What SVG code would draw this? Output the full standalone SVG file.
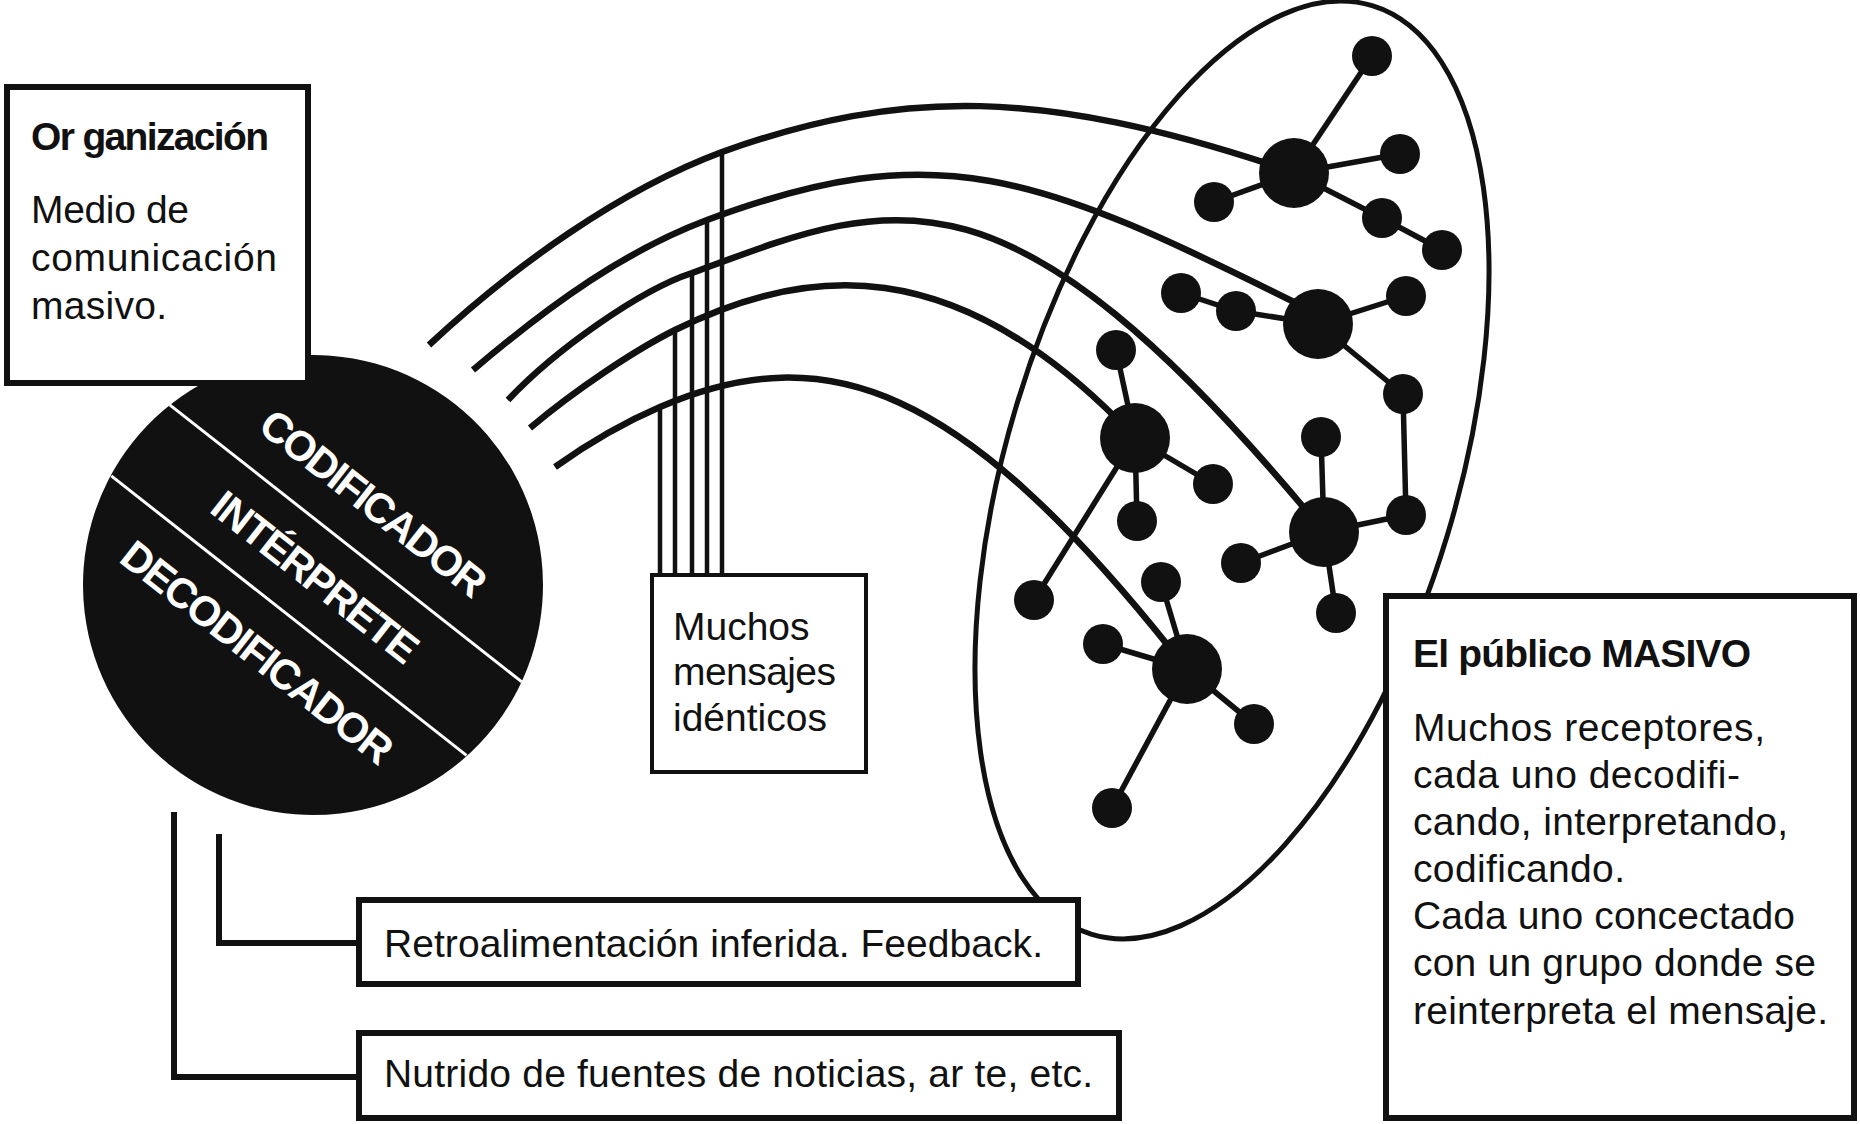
<svg xmlns="http://www.w3.org/2000/svg" width="1860" height="1124" viewBox="0 0 1860 1124">
<style>
.t{font-family:"Liberation Sans",Arial,sans-serif;font-size:39px;fill:#111}
.b{font-weight:bold}
.w{font-family:"Liberation Sans",Arial,sans-serif;font-size:42px;font-weight:bold;fill:#fff;text-anchor:middle}
.box{fill:#fff;stroke:#111;stroke-width:6}
.thin{fill:#fff;stroke:#111;stroke-width:4}
.arc{fill:none;stroke:#111;stroke-width:6.5}
.v{stroke:#111;stroke-width:4.5}
.e{stroke:#111;stroke-width:5.5}
.n{fill:#111}
.c{fill:none;stroke:#111;stroke-width:6}
.wl{stroke:#fff;stroke-width:3}
</style>
<rect width="1860" height="1124" fill="#fff"/>

<g id="publico-grupo">
<ellipse cx="1232" cy="470" rx="225" ry="485" transform="rotate(16.8 1232 470)" fill="none" stroke="#111" stroke-width="5"/>
</g>

<g id="connectors">
<path class="arc" d="M429,345 C515,265 620,190 722,152 C903,87 1045,90 1275,166"/>
<path class="arc" d="M473,370 C553,302 627,250 707,220 C936,135 1035,172.5 1300,305"/>
<path class="arc" d="M508,400 C555,350 640,290 692,273 C891,199.5 1002,146 1310,515"/>
<path class="arc" d="M530,428 C575,390 635,350 675,330 C809,263 953,255 1118,420"/>
<path class="arc" d="M555,467 C590,442 625,422 660,407 C828,335 962,388 1170,648"/>
<line class="v" x1="660" y1="575" x2="660" y2="407"/>
<line class="v" x1="675" y1="575" x2="675" y2="330"/>
<line class="v" x1="692" y1="575" x2="692" y2="273"/>
<line class="v" x1="707" y1="575" x2="707" y2="220"/>
<line class="v" x1="722" y1="575" x2="722" y2="152"/>
<path class="c" d="M219,834 V943 H359"/>
<path class="c" d="M174,812 V1077 H359"/>
</g>

<g id="receptores">
<g id="enlaces">
<line class="e" x1="1294" y1="173" x2="1372" y2="56"/>
<line class="e" x1="1294" y1="173" x2="1400" y2="154"/>
<line class="e" x1="1294" y1="173" x2="1214" y2="202"/>
<line class="e" x1="1294" y1="173" x2="1382" y2="218"/>
<line class="e" x1="1382" y1="218" x2="1442" y2="250"/>
<line class="e" x1="1181" y1="293" x2="1236" y2="311"/>
<line class="e" x1="1236" y1="311" x2="1318" y2="324"/>
<line class="e" x1="1318" y1="324" x2="1406" y2="296"/>
<line class="e" x1="1318" y1="324" x2="1403" y2="394"/>
<line class="e" x1="1403" y1="394" x2="1406" y2="515"/>
<line class="e" x1="1135" y1="438" x2="1116" y2="350"/>
<line class="e" x1="1135" y1="438" x2="1213" y2="484"/>
<line class="e" x1="1135" y1="438" x2="1137" y2="521"/>
<line class="e" x1="1135" y1="438" x2="1034" y2="600"/>
<line class="e" x1="1324" y1="532" x2="1406" y2="515"/>
<line class="e" x1="1324" y1="532" x2="1321" y2="437"/>
<line class="e" x1="1324" y1="532" x2="1241" y2="563"/>
<line class="e" x1="1324" y1="532" x2="1336" y2="613"/>
<line class="e" x1="1187" y1="669" x2="1161" y2="582"/>
<line class="e" x1="1187" y1="669" x2="1103" y2="644"/>
<line class="e" x1="1187" y1="669" x2="1254" y2="724"/>
<line class="e" x1="1187" y1="669" x2="1112" y2="808"/>
</g>
<g id="nodo-a"><circle class="n" cx="1294" cy="173" r="35"/><circle class="n" cx="1372" cy="56" r="20"/><circle class="n" cx="1400" cy="154" r="20"/><circle class="n" cx="1214" cy="202" r="20"/><circle class="n" cx="1382" cy="218" r="20"/><circle class="n" cx="1442" cy="250" r="20"/></g>
<g id="nodo-b"><circle class="n" cx="1318" cy="324" r="35"/><circle class="n" cx="1181" cy="293" r="20"/><circle class="n" cx="1236" cy="311" r="20"/><circle class="n" cx="1406" cy="296" r="20"/><circle class="n" cx="1403" cy="394" r="20"/></g>
<g id="nodo-c"><circle class="n" cx="1135" cy="438" r="35"/><circle class="n" cx="1116" cy="350" r="20"/><circle class="n" cx="1213" cy="484" r="20"/><circle class="n" cx="1137" cy="521" r="20"/><circle class="n" cx="1034" cy="600" r="20"/></g>
<g id="nodo-d"><circle class="n" cx="1324" cy="532" r="35"/><circle class="n" cx="1406" cy="515" r="20"/><circle class="n" cx="1321" cy="437" r="20"/><circle class="n" cx="1241" cy="563" r="20"/><circle class="n" cx="1336" cy="613" r="20"/></g>
<g id="nodo-e"><circle class="n" cx="1187" cy="669" r="35"/><circle class="n" cx="1161" cy="582" r="20"/><circle class="n" cx="1103" cy="644" r="20"/><circle class="n" cx="1254" cy="724" r="20"/><circle class="n" cx="1112" cy="808" r="20"/></g>
</g>

<g id="circulo" transform="translate(313,585) rotate(38.2)">
<circle cx="0" cy="0" r="230" fill="#111"/>
<line class="wl" x1="-224" y1="-53" x2="224" y2="-53"/>
<line class="wl" x1="-226" y1="39" x2="226" y2="39"/>
<text class="w" x="-3" y="-87" textLength="275">CODIFICADOR</text>
<text class="w" x="-3" y="7" textLength="250">INTÉRPRETE</text>
<text class="w" x="-2" y="102" textLength="333">DECODIFICADOR</text>
</g>

<g id="organizacion">
<rect class="box" x="7" y="87" width="301" height="296"/>
<text class="t b" x="31" y="150" textLength="238">Or ganización</text>
<text class="t" x="31" y="223" textLength="158">Medio de</text>
<text class="t" x="31" y="271" textLength="246">comunicación</text>
<text class="t" x="31" y="319" textLength="136">masivo.</text>
</g>

<g id="mensajes">
<rect class="thin" x="652" y="575" width="214" height="197"/>
<text class="t" x="673" y="640">Muchos</text>
<text class="t" x="673" y="685" textLength="163">mensajes</text>
<text class="t" x="673" y="731">idénticos</text>
</g>

<g id="feedback">
<rect class="box" x="359" y="900" width="719" height="84"/>
<text class="t" x="384" y="957" textLength="659">Retroalimentación inferida. Feedback.</text>
</g>

<g id="nutrido">
<rect class="box" x="359" y="1033" width="760" height="85"/>
<text class="t" x="384" y="1087" textLength="709">Nutrido de fuentes de noticias, ar te, etc.</text>
</g>

<g id="publico">
<rect class="box" x="1386" y="596" width="468" height="522"/>
<text class="t b" x="1413" y="667" textLength="338">El público MASIVO</text>
<text class="t" x="1413" y="741" textLength="352">Muchos receptores,</text>
<text class="t" x="1413" y="788" textLength="327">cada uno decodifi-</text>
<text class="t" x="1413" y="835" textLength="375">cando, interpretando,</text>
<text class="t" x="1413" y="882" textLength="212">codificando.</text>
<text class="t" x="1413" y="929" textLength="382">Cada uno concectado</text>
<text class="t" x="1413" y="976" textLength="403">con un grupo donde se</text>
<text class="t" x="1413" y="1024" textLength="415">reinterpreta el mensaje.</text>
</g>
</svg>
